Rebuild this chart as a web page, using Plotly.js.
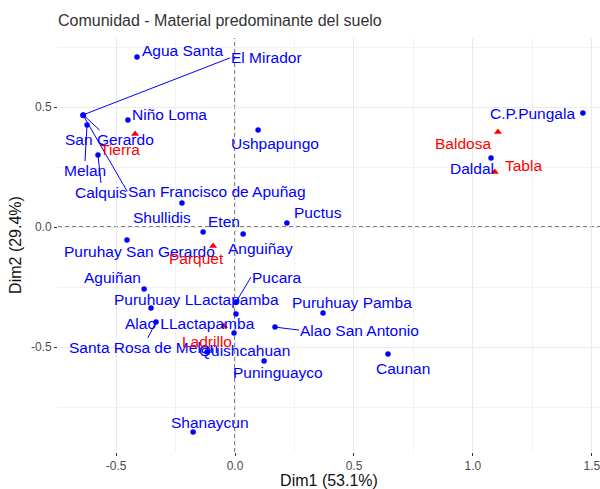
<!DOCTYPE html>
<html>
<head>
<meta charset="utf-8">
<script src="https://cdn.plot.ly/plotly-3.0.1.min.js"></script>
<style>html,body{margin:0;padding:0;background:#fff;}#chart{width:600px;height:489px;}</style>
</head>
<body>
<div id="chart"></div>
<script>
// ---- Data: communities (rows) ----
const communities = ["Agua Santa","El Mirador","San Gerardo","San Francisco de Apuñag","Niño Loma","Melan","Calquis",
  "Ushpapungo","Shullidis","Eten","Puctus","Anguiñay","Puruhay San Gerardo","Aguiñan","Puruhuay LLactapamba",
  "Santa Rosa de Melan","Pucara","Alao LLactapamba","","Quishcahuan","Puninguayco","Puruhuay Pamba",
  "Alao San Antonio","Caunan","Shanaycun","C.P.Pungala","Daldal"];
const commDim1 = [-0.412,-0.639,-0.637,-0.638,-0.450,-0.622,-0.576,
  0.097,-0.223,-0.134,0.218,0.034,-0.454,-0.382,-0.353,
  -0.332,0.004,0.004,-0.004,-0.118,0.122,0.370,
  0.168,0.643,-0.176,1.462,1.076];
const commDim2 = [0.708,0.467,0.466,0.465,0.446,0.425,0.300,
  0.404,0.100,-0.021,0.017,-0.029,-0.054,-0.258,-0.338,
  -0.396,-0.313,-0.363,-0.442,-0.521,-0.558,-0.358,
  -0.417,-0.529,-0.854,0.475,0.288];

// ---- Data: materials (columns) ----
const materials = ["Tierra","Parquet","Ladrillo","Baldosa","Tabla"];
const matDim1 = [-0.420,-0.092,-0.046,1.105,1.092];
const matDim2 = [0.388,-0.079,-0.413,0.396,0.229];

// ---- Axis tick labels ----
const xTickVals = [-0.5,0,0.5,1,1.5];
const xTickText = ["-0.5","0.0","0.5","1.0","1.5"];
const yTickVals = [-0.5,0,0.5];
const yTickText = ["-0.5","0.0","0.5"];

// ---- Label placement (pixel offsets, layout only) ----
const commPlace = {
  "Agua Santa":{dx:46,dy:-7},
  "El Mirador":{arrow:true,ax:147,ay:-57,xa:"left"},
  "San Gerardo":{arrow:true,ax:26,ay:24},
  "San Francisco de Apuñag":{arrow:true,ax:44,ay:76,xa:"left"},
  "Niño Loma":{dx:42,dy:-5},
  "Melan":{arrow:true,ax:-2,ay:36,ya:"top"},
  "Calquis":{arrow:true,ax:3,ay:28,ya:"top"},
  "Ushpapungo":{dx:17,dy:13},
  "Shullidis":{dx:-20,dy:14},
  "Eten":{dx:21,dy:-11},
  "Puctus":{dx:31,dy:-10},
  "Anguiñay":{dx:17,dy:15},
  "Puruhay San Gerardo":{dx:12,dy:12},
  "Aguiñan":{dx:-32,dy:-11},
  "Puruhuay LLactapamba":{dx:45,dy:-9},
  "Santa Rosa de Melan":{arrow:true,ax:-13,ay:25},
  "Pucara":{arrow:true,ax:15,ay:-25,xa:"left"},
  "Alao LLactapamba":{dx:-46,dy:9},
  "Quishcahuan":{dx:38,dy:-2},
  "Puninguayco":{dx:14,dy:12},
  "Puruhuay Pamba":{dx:29,dy:-10},
  "Alao San Antonio":{arrow:true,ax:24,ay:3,xa:"left"},
  "Caunan":{dx:15,dy:15},
  "Shanaycun":{dx:17,dy:-9},
  "C.P.Pungala":{dx:-50,dy:0},
  "Daldal":{dx:-19,dy:11}
};
const matPlace = {
  "Tierra":{dx:-15,dy:16},
  "Parquet":{dx:-17,dy:13},
  "Ladrillo":{dx:-17,dy:15},
  "Baldosa":{dx:-35,dy:12},
  "Tabla":{dx:29,dy:-7}
};

const BLUE = "#0000FF", RED = "#FF0000";
const FAM = "Liberation Sans, Arial, sans-serif";
const labelFont = {family:FAM, size:15.5};

function makeAnn(name, x, y, p, color){
  const base = {x:x, y:y, xref:"x", yref:"y", text:name,
    font:Object.assign({}, labelFont, {color:color}), borderpad:0};
  if (p.arrow){
    return Object.assign(base, {showarrow:true, arrowhead:0, arrowwidth:1, arrowcolor:color,
      ax:p.ax, ay:p.ay, standoff:0, xanchor:p.xa||"center", yanchor:p.ya||"middle"});
  }
  return Object.assign(base, {showarrow:false, xshift:p.dx, yshift:-p.dy, xanchor:"center", yanchor:"middle"});
}

const annotations = [];
communities.forEach((n,i)=>{ if(n && commPlace[n]) annotations.push(makeAnn(n, commDim1[i], commDim2[i], commPlace[n], BLUE)); });
materials.forEach((n,i)=>{ annotations.push(makeAnn(n, matDim1[i], matDim2[i], matPlace[n], RED)); });

const traces = [
  {type:"scatter", mode:"markers", x:commDim1, y:commDim2, text:communities,
   marker:{color:BLUE, size:5.5, symbol:"circle"}, hoverinfo:"text", showlegend:false},
  {type:"scatter", mode:"markers", x:matDim1, y:matDim2, text:materials,
   marker:{color:RED, size:7, symbol:"triangle-up"}, hoverinfo:"text", showlegend:false}
];

const gridCol = "#ebebeb";
const tickFont = {family:FAM, size:12, color:"#4d4d4d"};
const layout = {
  width:600, height:489,
  margin:{l:58, r:0, t:38, b:37},
  paper_bgcolor:"#fff", plot_bgcolor:"#fff",
  title:{text:"Comunidad - Material predominante del suelo", xref:"container", yref:"container",
    x:58/600, xanchor:"left", y:1-20/489, yanchor:"middle",
    font:{family:FAM, size:16, color:"#333"}},
  xaxis:{range:[-0.744,1.534], tickmode:"array", tickvals:xTickVals, ticktext:xTickText,
    showgrid:true, gridcolor:gridCol, gridwidth:1, zeroline:false, showline:false,
    ticks:"outside", ticklen:3, tickcolor:"#333", tickwidth:1, tickfont:tickFont, ticklabeloverflow:"allow",
    minor:{tickmode:"array", tickvals:[-0.75,-0.25,0.25,0.75,1.25], showgrid:true, gridcolor:gridCol, gridwidth:0.6, ticks:""},
    title:{text:"Dim1 (53.1%)", standoff:5, font:{family:FAM, size:16, color:"#111"}}},
  yaxis:{range:[-0.9375,0.7875], tickmode:"array", tickvals:yTickVals, ticktext:yTickText,
    showgrid:true, gridcolor:gridCol, gridwidth:1, zeroline:false, showline:false,
    ticks:"outside", ticklen:3, tickcolor:"#333", tickwidth:1, tickfont:tickFont, ticklabeloverflow:"allow",
    minor:{tickmode:"array", tickvals:[-0.75,-0.25,0.25,0.75], showgrid:true, gridcolor:gridCol, gridwidth:0.6, ticks:""},
    title:{text:"Dim2 (29.4%)", standoff:5, font:{family:FAM, size:16, color:"#111"}}},
  shapes:[
    {type:"line", xref:"x", yref:"paper", x0:0, x1:0, y0:0, y1:1, line:{color:"#000", width:1, dash:"4px,3px"}, layer:"below"},
    {type:"line", xref:"paper", yref:"y", x0:0, x1:1, y0:0, y1:0, line:{color:"#000", width:1, dash:"4px,3px"}, layer:"below"}
  ],
  annotations:annotations,
  showlegend:false
};

Plotly.newPlot("chart", traces, layout, {displayModeBar:false, staticPlot:true});
</script>
</body>
</html>
